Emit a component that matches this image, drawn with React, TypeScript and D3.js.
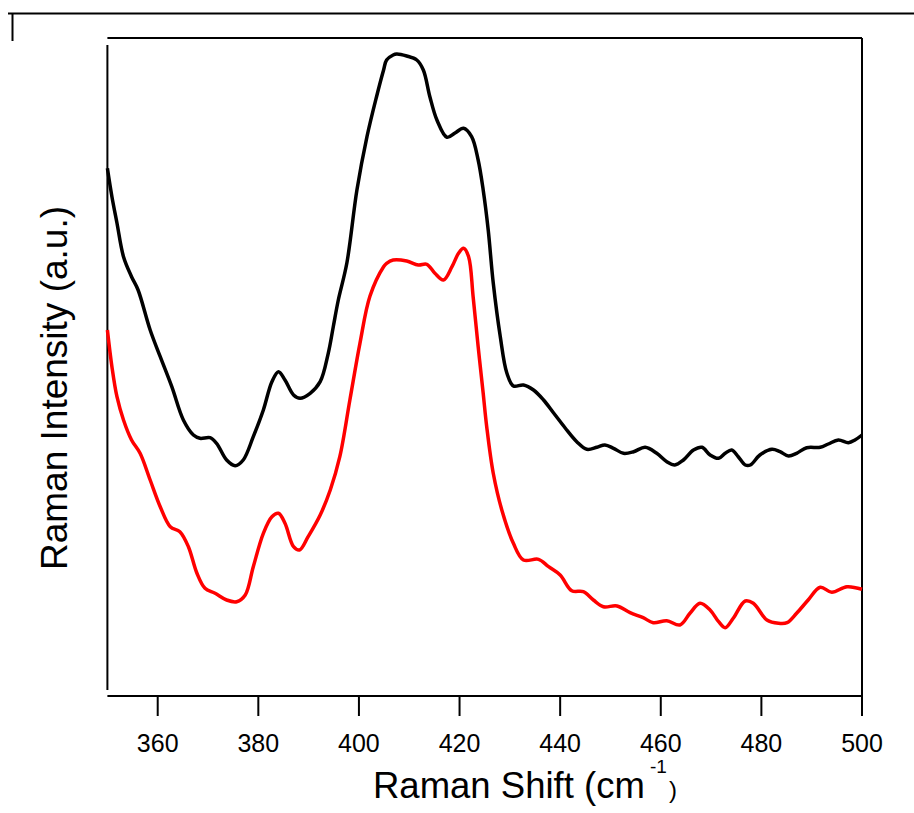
import React from "react";
import * as d3 from "d3";

// Raman spectra: [shift (cm^-1), intensity (a.u.)]
const upperSpectrum: [number, number][] = [
  [350, 527.7], [350.9, 499.3], [351.9, 473], [353.2, 439.3], [354.8, 419.3], [356.1, 406],
  [358.5, 366], [360.5, 339.3], [362.8, 309.3], [365.1, 276], [367.1, 261], [368.4, 257.7],
  [370.4, 258.3], [371.7, 252.7], [373.7, 236], [375.4, 230.3], [377.0, 236], [379.0, 259.3],
  [381.0, 286], [382.7, 314.3], [384.0, 324.3], [385.3, 316], [387.0, 301], [388.3, 297.7],
  [390.3, 302.7], [392.3, 314.3], [393.9, 342.7], [394.9, 369.3], [395.9, 396], [397.6, 433],
  [399.6, 506], [401.6, 559.3], [403.5, 599.3], [404.9, 626], [405.5, 636], [406.8, 641],
  [407.5, 642], [409.5, 640], [411.5, 636], [412.8, 626], [414.1, 599.3], [415.5, 576],
  [417.5, 558.7], [419.1, 563], [420.8, 567.7], [422.4, 559.3], [423.7, 536], [424.7, 506],
  [425.7, 466], [426.7, 413], [428.1, 359.3], [429.4, 323], [430.7, 310], [432.7, 311],
  [434.7, 306], [436.7, 296], [438.7, 283], [441.0, 268], [443.3, 254.3], [445.3, 246.7],
  [447.3, 248.7], [448.9, 251], [450.6, 247.7], [452.6, 242.7], [454.6, 244.3], [456.9, 248.7],
  [459.2, 242.7], [461.2, 234.3], [462.8, 231], [464.5, 236], [466.5, 246], [468.2, 248.7],
  [469.8, 241], [471.5, 237.7], [472.8, 242.7], [474.1, 246], [475.4, 239.3], [476.8, 231],
  [477.8, 231], [479.7, 241], [482.1, 246.7], [483.7, 244.3], [485.4, 240], [487.0, 242.7],
  [489.0, 248.3], [491.7, 248.7], [493.3, 252], [495.3, 256], [497.3, 253.3], [498.6, 256],
  [500, 261],
];

const lowerSpectrum: [number, number][] = [
  [350, 366], [350.9, 329.3], [351.9, 299.3], [353.2, 276], [354.8, 256], [356.5, 242.7],
  [358.5, 216], [360.5, 189.3], [362.5, 169.3], [364.4, 164.3], [366.1, 149.3], [367.8, 122.7],
  [369.4, 107.7], [371.4, 102.7], [373.7, 96], [375.7, 94.3], [377.4, 101], [379.0, 129.3],
  [381.0, 162.7], [382.7, 179.3], [384.0, 182.7], [385.3, 172.7], [387.0, 149.3], [388.2, 146],
  [389.9, 159.3], [392.3, 181], [394.3, 206], [396.2, 239.3], [398.2, 296], [400.2, 352.7],
  [402.2, 400], [404.9, 429.3], [405.5, 432.7], [406.8, 436], [409.5, 435], [411.8, 431],
  [413.5, 431.7], [415.1, 422.7], [416.8, 416], [418.5, 429.3], [419.8, 442.7], [420.8, 447.7],
  [421.8, 439.3], [422.7, 399.3], [423.7, 349.3], [424.7, 302.7], [425.4, 269.3], [426.7, 222.7],
  [428.4, 186], [430.7, 152.7], [432.7, 136], [435.7, 136.7], [437.7, 129.3], [440.0, 121],
  [442.3, 105.3], [444.6, 104.3], [446.6, 96], [448.6, 89.3], [451.3, 90], [453.9, 83.3],
  [456.5, 78.3], [458.5, 73.3], [461.2, 75.3], [463.8, 71], [465.8, 82.7], [467.8, 92.7],
  [469.8, 86], [471.5, 74.3], [472.8, 68.3], [474.4, 77.7], [476.8, 95], [478.4, 92.7],
  [481.1, 76], [483.4, 72.7], [485.1, 73.3], [487.0, 82.7], [489.3, 96], [491.7, 108.7],
  [494.0, 103.7], [497.0, 109.3], [500, 106.7],
];

const xTicks = [360, 380, 400, 420, 440, 460, 480, 500];

const W = 914;
const H = 813;
const left = 107.4;
const right = 862;
const top = 38;
const bottom = 696;
const FONT = "'Liberation Sans', Arial, Helvetica, sans-serif";

export default function App() {
  const x = d3.scaleLinear().domain([350, 500]).range([left, right]);
  const y = d3.scaleLinear().domain([0, 658]).range([bottom, top]);

  const line = d3
    .line<[number, number]>()
    .x((d) => x(d[0]))
    .y((d) => y(d[1]))
    .curve(d3.curveCatmullRom.alpha(0.5));

  return (
    <svg
      width={W}
      height={H}
      style={{ position: "absolute", left: 0, top: 0, background: "#fff" }}
    >
      {/* page rule */}
      <line x1={8} x2={W} y1={13.5} y2={13.5} stroke="#000" strokeWidth={2} />
      <line x1={12.5} x2={12.5} y1={13} y2={41} stroke="#000" strokeWidth={2} />

      {/* frame */}
      <line x1={left} x2={right} y1={top} y2={top} stroke="#000" strokeWidth={2} />
      <line x1={left} x2={left} y1={45} y2={690} stroke="#000" strokeWidth={2} />
      <line x1={right} x2={right} y1={top} y2={bottom} stroke="#000" strokeWidth={2} />
      <line x1={left} x2={right} y1={bottom} y2={bottom} stroke="#000" strokeWidth={2} />

      {/* bottom axis ticks + labels */}
      {xTicks.map((t) => (
        <g key={t}>
          <line x1={x(t)} x2={x(t)} y1={bottom} y2={716} stroke="#000" strokeWidth={2} />
          <text
            x={x(t)}
            y={752}
            textAnchor="middle"
            fontFamily={FONT}
            fontSize={25}
            fill="#000"
          >
            {t}
          </text>
        </g>
      ))}

      {/* spectra */}
      <path d={line(upperSpectrum) ?? ""} fill="none" stroke="#000" strokeWidth={3.5} strokeLinejoin="round" />
      <path d={line(lowerSpectrum) ?? ""} fill="none" stroke="#ff0000" strokeWidth={3.5} strokeLinejoin="round" />

      {/* axis titles */}
      <text x={373} y={798} fontFamily={FONT} fontSize={36.5} fill="#000">
        Raman Shift (cm
      </text>
      <text x={650} y={773} fontFamily={FONT} fontSize={19} fill="#000">
        -1
      </text>
      <text x={669} y={798} fontFamily={FONT} fontSize={24} fill="#000">
        )
      </text>

      <text
        transform="translate(67,570) rotate(-90)"
        fontFamily={FONT}
        fontSize={37}
        fill="#000"
      >
        Raman Intensity (a.u.)
      </text>
    </svg>
  );
}
